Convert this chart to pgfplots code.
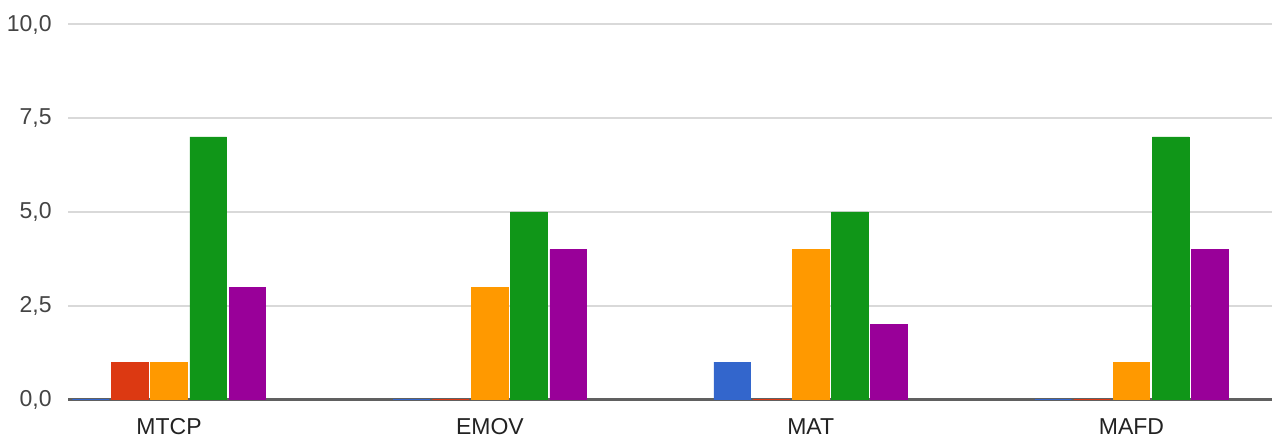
\documentclass[border=0pt]{standalone}
\usepackage{fontspec}
\setmainfont{Liberation Sans}
\usepackage{pgfplots}
\pgfplotsset{compat=1.18}
\definecolor{gblue}{HTML}{3366CC}
\definecolor{gred}{HTML}{DC3912}
\definecolor{gorange}{HTML}{FF9900}
\definecolor{ggreen}{HTML}{109618}
\definecolor{gpurple}{HTML}{990099}
\definecolor{gridc}{HTML}{D9D9D9}
\definecolor{basec}{HTML}{606060}
\definecolor{ticktext}{HTML}{444444}
\definecolor{cattext}{HTML}{222222}
\begin{document}
\begin{tikzpicture}
\begin{axis}[
  scale only axis,
  width=602pt, height=187.5pt,
  xmin=-0.315, xmax=3.438,
  ymin=0, ymax=10,
  ytick={0,2.5,5,7.5,10},
  xtick={0,1,2,3},
  xticklabels={MTCP,EMOV,MAT,MAFD},
  ymajorgrids,
  grid style={gridc, line width=1pt},
  axis x line*=bottom,
  axis y line*=left,
  y axis line style={draw=none},
  x axis line style={basec, line width=1.2pt, -},
  major tick length=0pt,
  /pgf/number format/.cd, fixed, fixed zerofill, precision=1, use comma, assume math mode=true,
  /pgfplots/.cd,
  yticklabel style={font=\fontsize{11.5}{13.8}\selectfont, text=ticktext, anchor=east, inner sep=0pt, xshift=-8pt},
  xticklabel style={font=\fontsize{11.5}{13.8}\selectfont, text=cattext, anchor=north, inner sep=0pt, yshift=-9.25pt},
  ybar=1.25pt,
  bar width=18.35pt,
  clip=false,
]
\addplot[fill=gblue, draw=gblue, line width=0.4pt] coordinates {(0,0) (1,0) (2,1) (3,0)};
\addplot[fill=gred, draw=gred, line width=0.4pt] coordinates {(0,1) (1,0) (2,0) (3,0)};
\addplot[fill=gorange, draw=gorange, line width=0.4pt] coordinates {(0,1) (1,3) (2,4) (3,1)};
\addplot[fill=ggreen, draw=ggreen, line width=0.4pt] coordinates {(0,7) (1,5) (2,5) (3,7)};
\addplot[fill=gpurple, draw=gpurple, line width=0.4pt] coordinates {(0,3) (1,4) (2,2) (3,4)};
\end{axis}
\pgfresetboundingbox
\path[use as bounding box] ([shift={(-34pt,-19.75pt)}]current axis.south west) rectangle +(636pt,219.5pt);
\end{tikzpicture}
\end{document}
